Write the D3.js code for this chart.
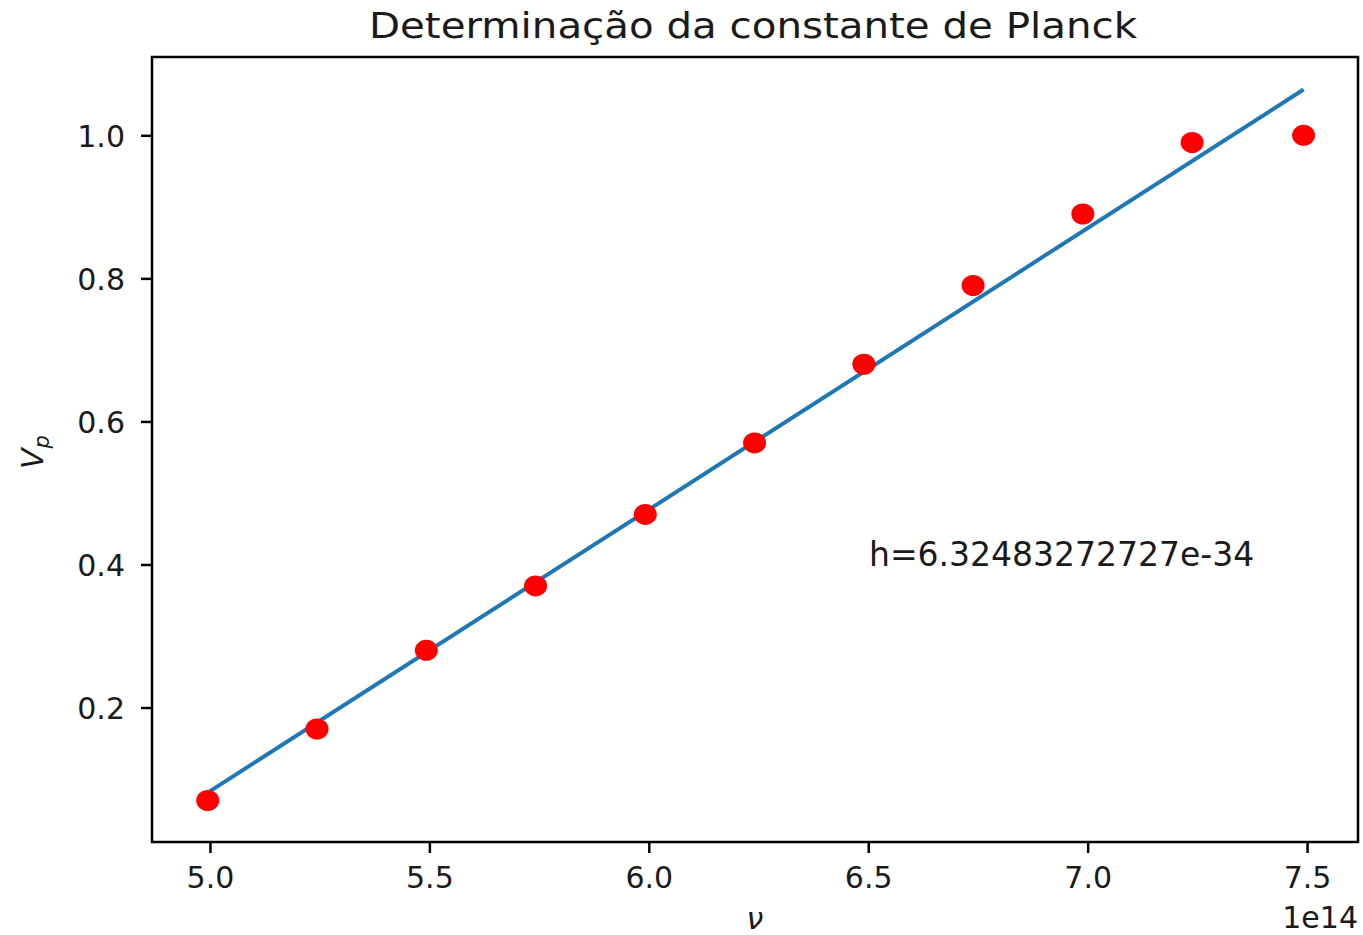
<!DOCTYPE html>
<html>
<head>
<meta charset="utf-8">
<script src="https://cdn.jsdelivr.net/npm/d3@7"></script>
<style>
  body { margin: 0; background: #fff; }
  text { font-family: "DejaVu Sans", sans-serif; fill: #1a1a1a; }
</style>
</head>
<body>
<svg id="chart" width="1363" height="935"></svg>
<script>
// frequency in units of 1e14 Hz, stopping potential in V
let freq = [4.995, 5.244, 5.493, 5.742, 5.992, 6.241, 6.490, 6.739, 6.989, 7.238, 7.492];
let vp = [0.07, 0.17, 0.28, 0.37, 0.47, 0.57, 0.68, 0.79, 0.89, 0.99, 1.00];
// fitted line end points
let fitX = [4.995, 7.492];
let fitY = [0.081, 1.064];
let xTicks = [5.0, 5.5, 6.0, 6.5, 7.0, 7.5];
let yTicks = [0.2, 0.4, 0.6, 0.8, 1.0];

let margin = {left: 152, top: 57, right: 1358, bottom: 842};

let svg = d3.select("#chart");

let x = d3.scaleLinear().domain([4.868, 7.616]).range([margin.left, margin.right]);
let y = d3.scaleLinear().domain([0.012, 1.1095]).range([margin.bottom, margin.top]);

// fit line
let line = d3.line().x(d => x(d[0])).y(d => y(d[1]));
svg.append("path")
    .datum(d3.zip(fitX, fitY))
    .attr("d", line)
    .attr("fill", "none")
    .attr("stroke", "#1f77b4")
    .attr("stroke-width", 4);

// points
svg.append("g").selectAll("ellipse")
    .data(d3.zip(freq, vp))
    .enter()
    .append("ellipse")
    .attr("cx", d => x(d[0]))
    .attr("cy", d => y(d[1]))
    .attr("rx", 11.5)
    .attr("ry", 10.5)
    .attr("fill", "#ff0000");

// axes
let xAxis = svg.append("g")
    .attr("transform", "translate(0," + margin.bottom + ")")
    .call(d3.axisBottom(x).tickValues(xTicks).tickFormat(d3.format(".1f")).tickSize(11).tickSizeOuter(0));
let yAxis = svg.append("g")
    .attr("transform", "translate(" + margin.left + ",0)")
    .call(d3.axisLeft(y).tickValues(yTicks).tickFormat(d3.format(".1f")).tickSize(11).tickSizeOuter(0));

[xAxis, yAxis].forEach(function (a) {
    a.select(".domain").remove();
    a.selectAll(".tick line").attr("stroke", "#000").attr("stroke-width", 2.5);
    a.selectAll(".tick text").attr("fill", "#1a1a1a").style("font-size", "30px")
        .style("font-family", "DejaVu Sans");
});
xAxis.selectAll(".tick text").attr("y", 25).attr("dy", "0.71em");
yAxis.selectAll(".tick text").attr("x", -27).attr("dy", "0.36em");

// frame
svg.append("rect")
    .attr("x", margin.left)
    .attr("y", margin.top)
    .attr("width", margin.right - margin.left)
    .attr("height", margin.bottom - margin.top)
    .attr("fill", "none")
    .attr("stroke", "#000")
    .attr("stroke-width", 2.5);

// texts
svg.append("text")
    .attr("x", 369)
    .attr("y", 38)
    .attr("textLength", 768)
    .attr("lengthAdjust", "spacingAndGlyphs")
    .style("font-size", "35px")
    .text("Determinação da constante de Planck");

svg.append("text")
    .attr("x", 869)
    .attr("y", 566)
    .style("font-size", "33px")
    .text("h=6.32483272727e-34");

svg.append("text")
    .attr("x", 1358)
    .attr("y", 928)
    .attr("text-anchor", "end")
    .style("font-size", "30px")
    .text("1e14");

svg.append("text")
    .attr("x", 755)
    .attr("y", 929)
    .attr("text-anchor", "middle")
    .style("font-size", "30px")
    .style("font-style", "italic")
    .text("ν");

let yl = svg.append("text")
    .attr("transform", "translate(43,452) rotate(-90)")
    .attr("text-anchor", "middle")
    .style("font-size", "30px")
    .style("font-style", "italic");
yl.append("tspan").text("V");
yl.append("tspan").attr("dy", 6).style("font-size", "21px").text("p");
</script>
</body>
</html>
